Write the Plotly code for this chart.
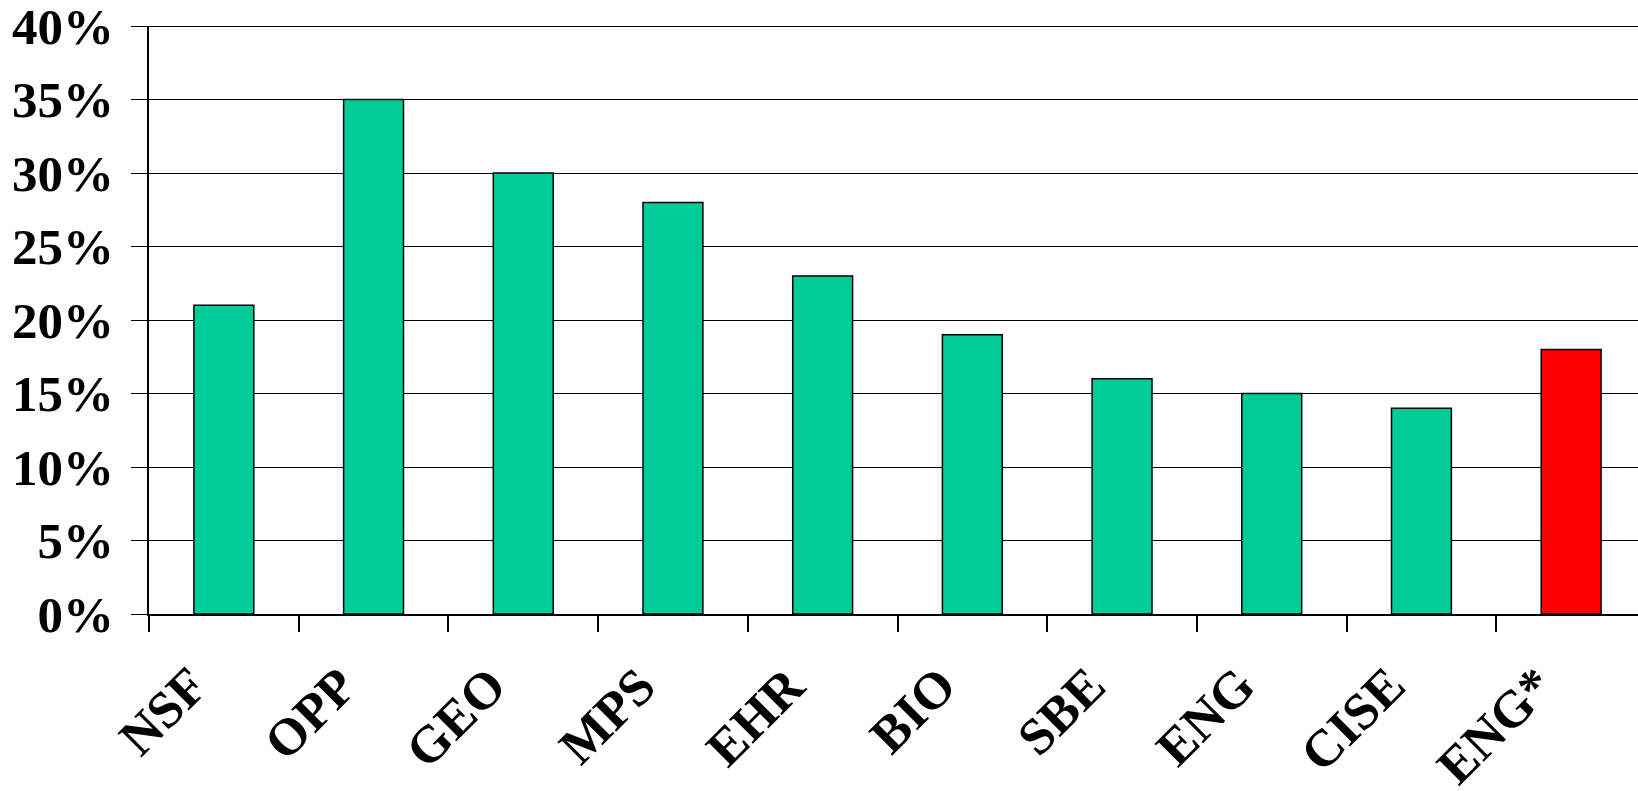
import plotly.graph_objects as go

categories = ["NSF", "OPP", "GEO", "MPS", "EHR", "BIO", "SBE", "ENG", "CISE", "ENG*"]
values = [21, 35, 30, 28, 23, 19, 16, 15, 14, 18]
highlight = "ENG*"
y_tick_values = [0, 5, 10, 15, 20, 25, 30, 35, 40]
y_tick_labels = ["0%", "5%", "10%", "15%", "20%", "25%", "30%", "35%", "40%"]

GREEN = "#00CC99"
RED = "#FF0000"
colors = [RED if c == highlight else GREEN for c in categories]

W, H = 1638, 791
L, T, B = 149, 26, 177
plot_w = W - L
cat_px = 149.7
x_end = -0.5 + plot_w / cat_px

fig = go.Figure(go.Bar(
    x=categories, y=values,
    marker=dict(color=colors, line=dict(color="black", width=1.5)),
    width=0.4,
))

yfont = dict(family="Liberation Serif, Times New Roman, serif", size=51, color="black", weight="bold")
xfont = dict(family="Liberation Serif, Times New Roman, serif", size=52, color="black", weight="bold")

fig.update_layout(
    width=W, height=H,
    margin=dict(l=L, r=0, t=T, b=B, pad=0),
    paper_bgcolor="white", plot_bgcolor="white",
    showlegend=False,
    bargap=0.6,
)
fig.update_xaxes(
    type="category", range=[-0.5, x_end],
    showgrid=False, showline=True, linecolor="black", linewidth=1.5,
    ticks="outside", ticklen=16, tickcolor="black", tickwidth=1.5,
    tickson="boundaries", showticklabels=False,
)
fig.update_yaxes(
    range=[0, 40], tickmode="array", tickvals=y_tick_values, ticktext=y_tick_labels,
    showgrid=True, gridcolor="black", gridwidth=1.2,
    showline=True, linecolor="black", linewidth=1.5,
    ticks="outside", ticklen=16, tickcolor="black", tickwidth=1.2,
    tickfont=yfont, ticklabelstandoff=7, zeroline=False,
    ticklabeloverflow="allow",
)
fig.add_shape(type="line", xref="paper", yref="y", x0=0, x1=1, y0=40, y1=40,
              line=dict(color="black", width=2))

for c in categories:
    fig.add_annotation(
        x=c, y=0, xref="x", yref="y", text=c, showarrow=False,
        textangle=-45, xanchor="right", yanchor="top",
        xshift=-5, yshift=-41, font=xfont, borderpad=0,
    )

fig.write_html("out.html")
